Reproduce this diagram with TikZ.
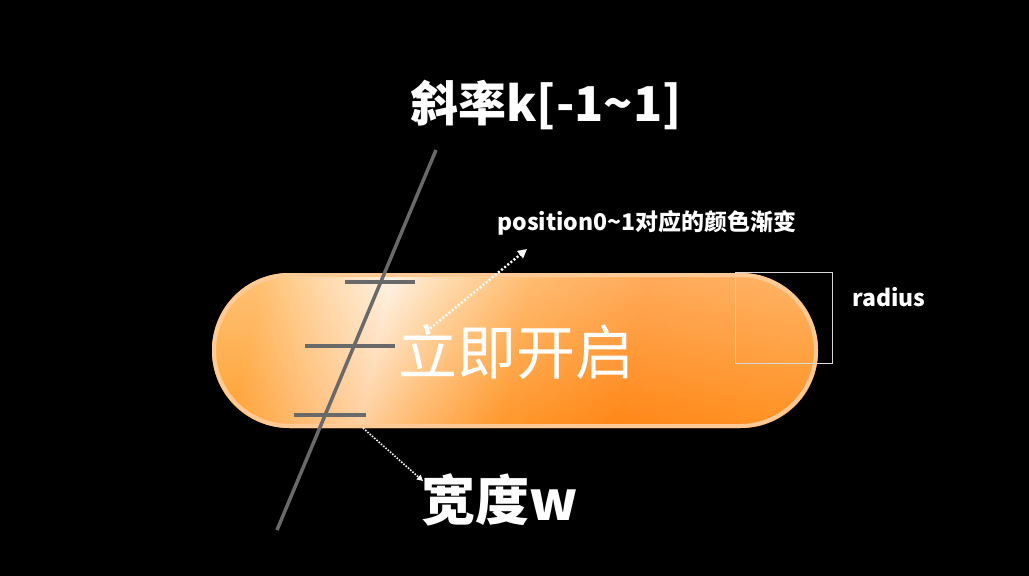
\documentclass[tikz,border=0pt]{standalone}
\usepackage{fontspec}
\newfontfamily\cjk{Noto Sans CJK SC}
\usetikzlibrary{arrows.meta}
\definecolor{btnA}{RGB}{255,170,62}
\definecolor{btnB}{RGB}{255,206,145}
\definecolor{btnC}{RGB}{255,238,218}
\definecolor{btnD}{RGB}{255,160,55}
\definecolor{btnE}{RGB}{255,135,22}
\definecolor{btnF}{RGB}{255,148,38}
\definecolor{btnedge}{RGB}{255,202,150}
\definecolor{slopegray}{RGB}{105,105,105}
\pgfdeclarehorizontalshading{btnshade}{100bp}{color(0bp)=(btnA); color(25bp)=(btnA); color(31bp)=(btnB); color(37bp)=(btnC); color(42bp)=(btnB); color(50bp)=(btnD); color(61bp)=(btnE); color(75bp)=(btnF); color(100bp)=(btnF)}
\tikzset{
	widthmark/.style={draw=slopegray, line width=3.5pt},
	dotarrow/.style={draw=white, line width=2.4pt, dash pattern=on 2pt off 2pt, -{Triangle[length=9pt,width=9pt]}},
	biglabel/.style={text=white, font=\cjk\bfseries\fontsize{48}{52}\selectfont, inner sep=0pt},
	smalllabel/.style={text=white, font=\cjk\bfseries\fontsize{23}{27}\selectfont, inner sep=0pt}
}

\begin{document}
\begin{tikzpicture}[x=1pt, y=-1pt]
			%%%%% START %%%%%
			
			\fill[black] (0, 0) rectangle (1029, 576);
			\useasboundingbox (0, 0) rectangle (1029, 576);
			
			% button
			\shade[shading=btnshade, shading angle=-12, rounded corners=77] (212, 273) rectangle (818, 428);
			\shade[top color=white, bottom color=btnE, opacity=0.3, rounded corners=77] (212, 273) rectangle (818, 428);
			\draw[btnedge, line width=4pt, rounded corners=76] (214, 275) rectangle (816, 426);
			\node[text=white, font=\cjk\fontsize{59}{63}\selectfont, inner sep=0pt] (btntext) at (516, 352) {立即开启};
			
			% slope line and widths
			\coordinate (ktop) at (436, 150);
			\coordinate (kbot) at (277, 530);
			\draw[slopegray, line width=3.5pt] (ktop) -- (kbot);
			
			\coordinate (wa1) at (345, 282);
			\coordinate (wa2) at (415, 282);
			\coordinate (wb1) at (305, 346);
			\coordinate (wb2) at (395, 346);
			\coordinate (wc1) at (294, 415);
			\coordinate (wc2) at (366, 415);
			\draw[widthmark] (wa1) -- (wa2);
			\draw[widthmark] (wb1) -- (wb2);
			\draw[widthmark] (wc1) -- (wc2);
			
			% radius box
			\coordinate (rad1) at (735, 272);
			\coordinate (rad2) at (832, 363);
			\draw[white!85!black, line width=1pt] (rad1) rectangle (rad2);
			
			% labels
			\node[biglabel] (slope) at (546, 105) {斜率k[-1\char`\~1]};
			\node[biglabel, font=\cjk\bfseries\fontsize{54}{58}\selectfont] (width) at (500, 500) {宽度w};
			\node[smalllabel] (position) at (647, 223) {position0\char`\~1对应的颜色渐变};
			\node[smalllabel] (radius) at (889, 297) {radius};
			
			% arrows
			\coordinate (posfrom) at (427, 331);
			\coordinate (posto) at (527, 249);
			\draw[dotarrow] (posfrom) -- (posto);
			\coordinate (wfrom) at (363, 428);
			\coordinate (wto) at (423, 481);
			\draw[dotarrow, line width=1.6pt, dash pattern=on 1.5pt off 1.5pt, -{Triangle[length=6pt,width=6pt]}] (wfrom) -- (wto);
			
			%%%%% END %%%%%
		\end{tikzpicture}
\end{document}
